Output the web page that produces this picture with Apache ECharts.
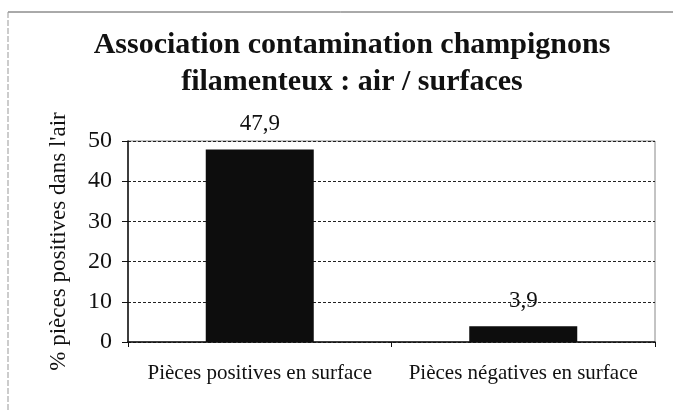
<!DOCTYPE html>
<html>
<head>
<meta charset="utf-8">
<script src="https://cdn.jsdelivr.net/npm/echarts@6/dist/echarts.min.js"></script>
<style>
html,body{margin:0;padding:0;background:#fff;}
#chart{width:673px;height:411px;}
</style>
</head>
<body>
<div id="chart"></div>
<script type="text/javascript">
var categories = ['Pièces positives en surface', 'Pièces négatives en surface'];
var values = [47.9, 3.9];
var yTicks = [0, 10, 20, 30, 40, 50];

var serif = '"Liberation Serif", "DejaVu Serif", serif';
var chart = echarts.init(document.getElementById('chart'));
var option = {
    backgroundColor: '#ffffff',
    animation: false,
    title: {
        text: 'Association contamination champignons\nfilamenteux : air / surfaces',
        left: 347,
        textAlign: 'center',
        top: 22,
        textStyle: {
            fontFamily: serif,
            fontWeight: 'bold',
            fontSize: 30,
            lineHeight: 37,
            color: '#111'
        }
    },
    graphic: [
        { type: 'line', shape: { x1: 8, y1: 12, x2: 673, y2: 12 }, style: { stroke: '#555', lineWidth: 1 } },
        { type: 'line', shape: { x1: 8, y1: 12, x2: 8, y2: 411 }, style: { stroke: '#999', lineWidth: 1, lineDash: [6, 2] } }
    ],
    grid: {
        left: 128,
        right: 18,
        top: 141,
        bottom: 69,
        show: true,
        borderColor: '#888',
        borderWidth: 1
    },
    xAxis: {
        type: 'category',
        data: categories,
        axisLine: { lineStyle: { color: '#111', width: 1.5 } },
        axisTick: { show: true, alignWithLabel: false, length: 5, lineStyle: { color: '#111' } },
        axisLabel: {
            interval: 0,
            hideOverlap: false,
            fontFamily: serif,
            fontSize: 21,
            color: '#111',
            margin: 21
        }
    },
    yAxis: {
        type: 'value',
        min: yTicks[0],
        max: yTicks[yTicks.length - 1],
        interval: 10,
        name: "% pièces positives dans l'air",
        nameLocation: 'middle',
        nameGap: 58,
        nameRotate: 90,
        nameTextStyle: { fontFamily: serif, fontSize: 23, color: '#111' },
        axisLine: { show: true, lineStyle: { color: '#111', width: 1.5 } },
        axisTick: { show: true, length: 6, lineStyle: { color: '#111' } },
        axisLabel: { fontFamily: serif, fontSize: 24, color: '#111', margin: 16 },
        splitLine: { show: true, lineStyle: { color: '#222', type: [3, 2], width: 1 } }
    },
    series: [{
        type: 'bar',
        data: values,
        barWidth: 108,
        itemStyle: { color: '#0d0d0d' },
        label: {
            show: true,
            position: 'top',
            distance: 14,
            fontFamily: serif,
            fontSize: 23,
            color: '#111',
            formatter: function (p) { return String(p.value).replace('.', ','); }
        }
    }]
};
chart.setOption(option);
</script>
</body>
</html>
